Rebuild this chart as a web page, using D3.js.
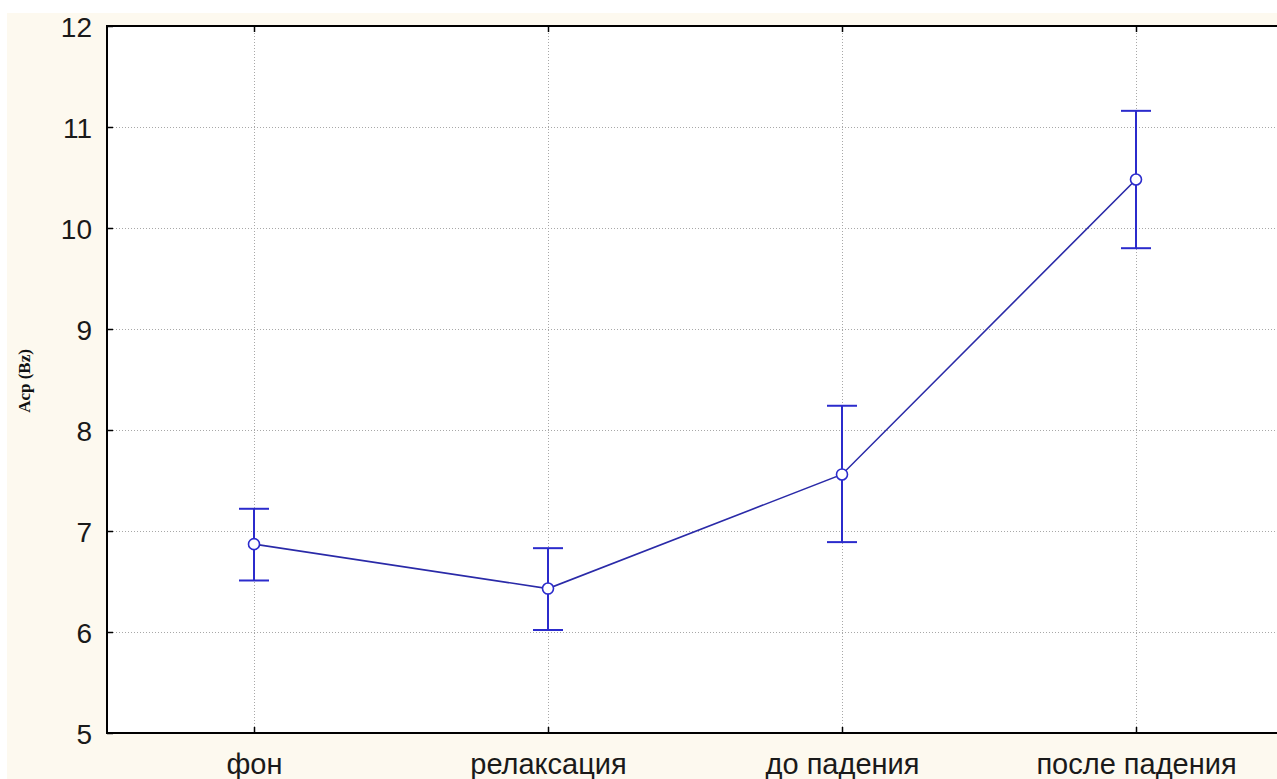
<!DOCTYPE html>
<html><head><meta charset="utf-8">
<script src="https://cdn.jsdelivr.net/npm/d3@7"></script>
<style>
html,body{margin:0;padding:0;background:#fff;overflow:hidden}
svg{display:block}
</style></head>
<body><svg id="c" width="1277" height="779"></svg>
<script>
const categories = ["фон", "релаксация", "до падения", "после падения"];
const means = [6.87, 6.43, 7.56, 10.48];
const upper = [7.22, 6.83, 8.24, 11.16];
const lower = [6.51, 6.02, 6.89, 9.80];
const yTicks = [5, 6, 7, 8, 9, 10, 11, 12];
const yTitle = "Acp (Bz)";

const W = 1277, H = 779;
const L = 107, R = 1283, T = 26, B = 733;
const svg = d3.select("#c");

svg.append("rect").attr("x", 0).attr("y", 0).attr("width", W).attr("height", H).attr("fill", "#ffffff");
svg.append("rect").attr("x", 7).attr("y", 13).attr("width", W - 7).attr("height", H - 13).attr("fill", "#fdf9ef");
svg.append("rect").attr("x", L).attr("y", T).attr("width", R - L).attr("height", B - T).attr("fill", "#ffffff");

const x = d3.scalePoint().domain(categories).range([L, R]).padding(0.5);
const y = d3.scaleLinear().domain([5, 12]).range([B, T]);

// grid
const gridY = svg.append("g").attr("transform", `translate(${L},0)`)
  .call(d3.axisLeft(y).tickValues(yTicks.slice(1, -1)).tickSize(-(R - L)).tickFormat(""));
gridY.select(".domain").remove();
gridY.selectAll("line").attr("stroke", "#a8a8a8").attr("stroke-dasharray", "1,2");
const gridX = svg.append("g").attr("transform", `translate(0,${B})`)
  .call(d3.axisBottom(x).tickSize(-(B - T)).tickFormat(""));
gridX.select(".domain").remove();
gridX.selectAll("line").attr("stroke", "#a8a8a8").attr("stroke-dasharray", "1,2");

// inward ticks
function ticks(g) { g.select(".domain").remove(); g.selectAll("line").attr("stroke", "#000").attr("stroke-width", 1.5); }
svg.append("g").attr("transform", `translate(${L},0)`).call(d3.axisRight(y).tickValues(yTicks).tickSize(6).tickFormat("")).call(ticks);
svg.append("g").attr("transform", `translate(${R},0)`).call(d3.axisLeft(y).tickValues(yTicks).tickSize(6).tickFormat("")).call(ticks);
svg.append("g").attr("transform", `translate(0,${B})`).call(d3.axisTop(x).tickSize(6).tickFormat("")).call(ticks);
svg.append("g").attr("transform", `translate(0,${T})`).call(d3.axisBottom(x).tickSize(6).tickFormat("")).call(ticks);

// frame
svg.append("path").attr("d", `M${R},${T}H${L}V${B}H${R}`).attr("fill", "none").attr("stroke", "#000").attr("stroke-width", 2);

// y labels
const yl = svg.append("g").attr("transform", `translate(${L},0)`)
  .call(d3.axisLeft(y).tickValues(yTicks).tickSize(0).tickPadding(15).tickFormat(d3.format("d")));
yl.select(".domain").remove();
yl.selectAll("text").attr("font-family", "Liberation Sans, Arial, sans-serif").attr("font-size", 28)
  .attr("fill", "#1a1a1a").attr("dy", "0.36em");

// x labels
const xl = svg.append("g").attr("transform", `translate(0,${B})`)
  .call(d3.axisBottom(x).tickSize(0).tickPadding(0));
xl.select(".domain").remove();
xl.selectAll("text").attr("font-family", "Liberation Sans, Arial, sans-serif").attr("font-size", 29)
  .attr("fill", "#1a1a1a").attr("y", 41).attr("dy", 0);

// y title
svg.append("text").attr("transform", "translate(30,381) rotate(-90)").attr("text-anchor", "middle")
  .attr("font-family", "Liberation Serif, serif").attr("font-weight", "bold").attr("font-size", 17)
  .attr("fill", "#111").text(yTitle);

// line
const pts = categories.map((c, i) => ({c, m: means[i], u: upper[i], l: lower[i]}));
svg.append("path").datum(pts)
  .attr("d", d3.line().x(d => x(d.c)).y(d => y(d.m)))
  .attr("fill", "none").attr("stroke", "#2a2aa8").attr("stroke-width", 1.6);

// error bars
const eb = svg.append("g").selectAll("g").data(pts).join("g");
eb.append("line").attr("x1", d => x(d.c)).attr("x2", d => x(d.c)).attr("y1", d => y(d.u)).attr("y2", d => y(d.l))
  .attr("stroke", "#2b2bcc").attr("stroke-width", 2);
eb.append("line").attr("x1", d => x(d.c) - 15).attr("x2", d => x(d.c) + 15).attr("y1", d => y(d.u)).attr("y2", d => y(d.u))
  .attr("stroke", "#2b2bcc").attr("stroke-width", 2);
eb.append("line").attr("x1", d => x(d.c) - 15).attr("x2", d => x(d.c) + 15).attr("y1", d => y(d.l)).attr("y2", d => y(d.l))
  .attr("stroke", "#2b2bcc").attr("stroke-width", 2);
eb.append("circle").attr("cx", d => x(d.c)).attr("cy", d => y(d.m)).attr("r", 5.5)
  .attr("fill", "#fff").attr("stroke", "#2b2bcc").attr("stroke-width", 1.6);
</script></body></html>
